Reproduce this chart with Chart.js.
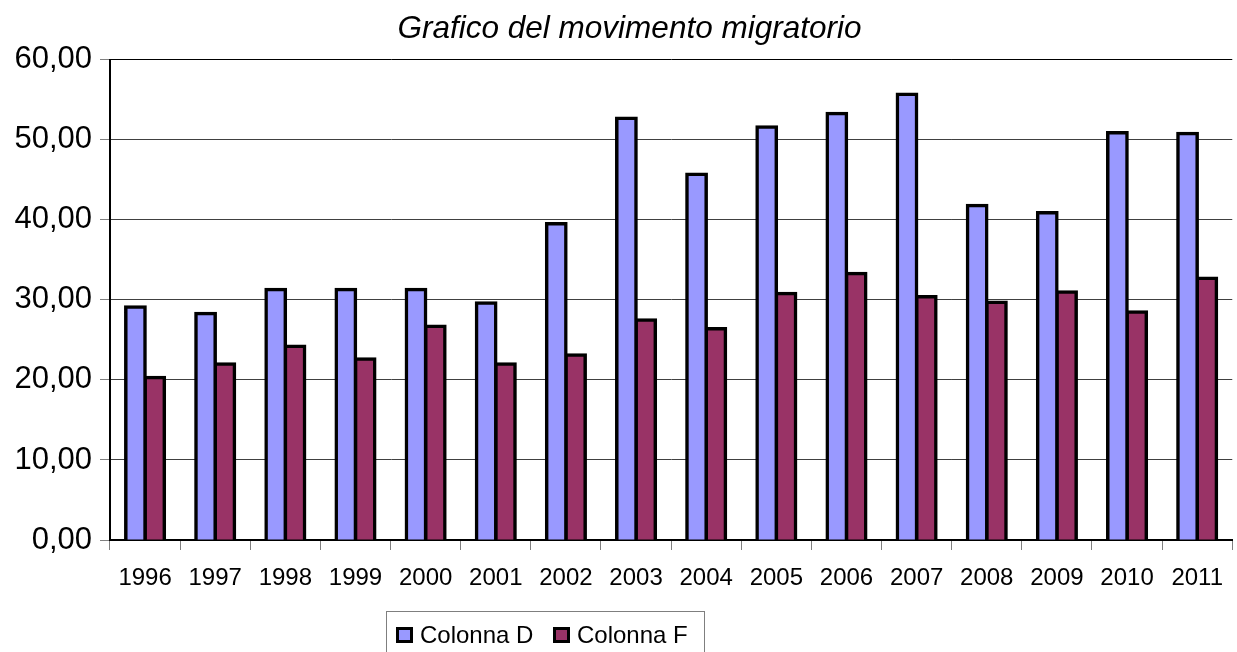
<!DOCTYPE html>
<html>
<head>
<meta charset="utf-8">
<script src="https://cdn.jsdelivr.net/npm/chart.js@4"></script>
<style>
  html, body { margin: 0; padding: 0; background: #fff; }
  #wrap { width: 1237px; height: 652px; position: relative; }
</style>
</head>
<body>
<div id="wrap"><canvas id="c" width="1237" height="652"></canvas></div>
<script>
const years = ['1996','1997','1998','1999','2000','2001','2002','2003','2004','2005','2006','2007','2008','2009','2010','2011'];
const colonnaD = [29.1, 28.3, 31.3, 31.3, 31.3, 29.6, 39.5, 52.7, 45.7, 51.6, 53.3, 55.7, 41.8, 40.9, 50.9, 50.8];
const colonnaF = [20.3, 22.0, 24.2, 22.6, 26.7, 22.0, 23.1, 27.5, 26.4, 30.8, 33.3, 30.4, 29.7, 31.0, 28.5, 32.7];
const seriesNames = ['Colonna D', 'Colonna F'];
const seriesColors = ['#9999FF', '#993366'];
const chartTitle = 'Grafico del movimento migratorio';

const FONT = "'Liberation Sans', Arial, sans-serif";

const titleShift = {
  id: 'titleShift',
  afterLayout(chart) {
    if (chart.titleBlock) { chart.titleBlock.left = 22; }
  }
};

const boxedLegend = {
  id: 'boxedLegend',
  afterDraw(chart) {
    const ctx = chart.ctx;
    ctx.save();
    ctx.strokeStyle = '#7f7f7f';
    ctx.lineWidth = 1;
    ctx.strokeRect(386.5, 611.5, 318, 60);
    ctx.font = '24px ' + FONT;
    ctx.textBaseline = 'alphabetic';
    const xs = [396, 553];
    chart.data.datasets.forEach((ds, i) => {
      const x = xs[i];
      ctx.fillStyle = '#000';
      ctx.fillRect(x, 627, 17, 16);
      ctx.fillStyle = ds.backgroundColor;
      ctx.fillRect(x + 3, 630, 11, 10);
      ctx.fillStyle = '#000';
      ctx.fillText(ds.label, x + 24, 643);
    });
    ctx.restore();
  }
};

new Chart(document.getElementById('c'), {
  type: 'bar',
  data: {
    labels: years,
    datasets: [
      { label: seriesNames[0], data: colonnaD, backgroundColor: seriesColors[0], borderColor: '#000', borderWidth: 3.5, inflateAmount: 1.75 },
      { label: seriesNames[1], data: colonnaF, backgroundColor: seriesColors[1], borderColor: '#000', borderWidth: 3.5, inflateAmount: 1.75 }
    ]
  },
  options: {
    responsive: false,
    animation: false,
    devicePixelRatio: 1,
    layout: { padding: { left: 0, right: 0, top: 0, bottom: 62 } },
    datasets: { bar: { categoryPercentage: 0.55, barPercentage: 1.0 } },
    plugins: {
      legend: { display: false },
      tooltip: { enabled: false },
      title: {
        display: true,
        text: chartTitle,
        color: '#000',
        font: { family: FONT, size: 31.5, style: 'italic', weight: 'normal', lineHeight: 1.2 },
        padding: { top: 10, bottom: 12 }
      }
    },
    scales: {
      x: {
        z: 1,
        grid: { drawOnChartArea: false, drawTicks: true, tickLength: 10, color: '#808080', offset: true },
        border: { display: true, color: '#000', width: 2 },
        ticks: { color: '#000', font: { family: FONT, size: 24 }, padding: 14, maxRotation: 0, autoSkip: false },
        afterFit: (axis) => { axis.height = 50; }
      },
      y: {
        min: 0, max: 60,
        grid: {
          color: (c) => (c.tick && c.tick.value === 60 ? '#000' : '#404040'),
          lineWidth: 1, tickLength: 10, tickColor: '#808080'
        },
        border: { display: true, color: '#000', width: 2 },
        ticks: {
          stepSize: 10, color: '#000', padding: 8,
          font: { family: FONT, size: 31 },
          callback: (v) => Number(v).toFixed(2).replace('.', ',')
        },
        afterFit: (axis) => { axis.width = 110; }
      }
    }
  },
  plugins: [titleShift, boxedLegend]
});
</script>
</body>
</html>
